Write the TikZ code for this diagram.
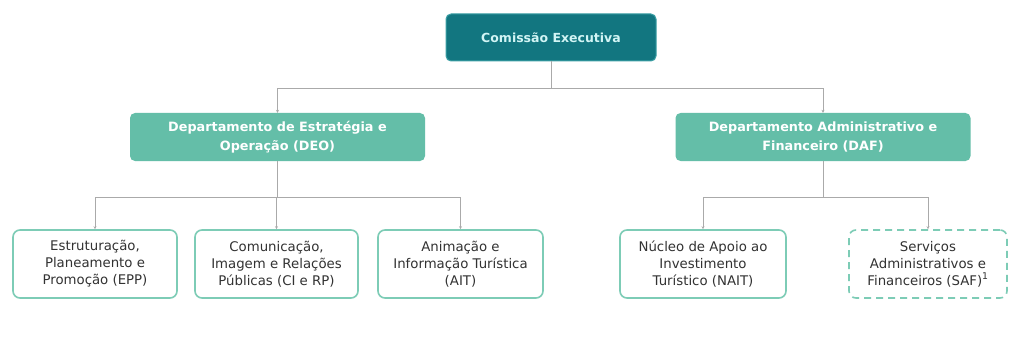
\documentclass[tikz,border=0pt]{standalone}
\usepackage{fontspec}
\setmainfont{DejaVu Sans}
\usetikzlibrary{arrows.meta}
\definecolor{exec}{RGB}{18,118,128}
\definecolor{execborder}{RGB}{60,160,165}
\definecolor{exectext}{RGB}{210,245,245}
\definecolor{dept}{RGB}{100,190,168}
\definecolor{unitborder}{RGB}{125,204,182}
\definecolor{conn}{RGB}{170,170,170}
\definecolor{txt}{RGB}{50,50,50}
\tikzset{
  execbox/.style={draw=execborder, line width=1pt, fill=exec, rounded corners=5pt, minimum width=210pt, minimum height=47pt, text=exectext, font=\fontsize{12.5}{15}\selectfont\bfseries, align=center, inner sep=0pt},
  deptbox/.style={fill=dept, rounded corners=5pt, minimum width=295pt, minimum height=48pt, text=white, font=\fontsize{12.8}{19}\selectfont\bfseries, align=center, inner sep=0pt},
  unitbox/.style={draw=unitborder, line width=1.6pt, rounded corners=7pt, minimum height=68pt, text=txt, font=\fontsize{13.3}{17}\selectfont, align=center, inner sep=0pt},
  dashbox/.style={unitbox, dashed, dash pattern=on 7pt off 5pt},
  conn/.style={draw=conn, line width=0.8pt},
  tip/.style={conn, -{Stealth[length=3pt,width=3pt]}}
}
\begin{document}
\begin{tikzpicture}[x=1pt,y=1pt]
\useasboundingbox[fill=white] (0,0) rectangle (1009,338);
\node[execbox] (ce) at (551,300.5) {Comissão Executiva};
\node[deptbox] (deo) at (277.5,201) {Departamento de Estratégia e\\Operação (DEO)};
\node[deptbox] (daf) at (823,201) {Departamento Administrativo e\\Financeiro (DAF)};
\node[unitbox, minimum width=164pt] (epp) at (95,74) {Estruturação,\\Planeamento e\\Promoção (EPP)};
\node[unitbox, minimum width=163pt] (ci) at (276.5,74) {Comunicação,\\Imagem e Relações\\Públicas (CI e RP)};
\node[unitbox, minimum width=165pt] (ait) at (460.5,74) {Animação e\\Informação Turística\\(AIT)};
\node[unitbox, minimum width=166pt] (nait) at (703,74) {Núcleo de Apoio ao\\Investimento\\Turístico (NAIT)};
\node[dashbox, minimum width=158pt] (saf) at (928,74) {Serviços\\Administrativos e\\Financeiros (SAF)\textsuperscript{1}};
\coordinate (b1) at (551,250);
\coordinate (b2) at (277.5,141);
\coordinate (b3) at (823,141);
\draw[conn] (ce.south) -- (b1);
\draw[tip] (b1) -| (deo.north);
\draw[tip] (b1) -| (daf.north);
\draw[conn] (deo.south) -- (b2);
\draw[tip] (b2) -| (epp.north);
\draw[tip] (b2) -| (ci.north);
\draw[tip] (b2) -| (ait.north);
\draw[conn] (daf.south) -- (b3);
\draw[tip] (b3) -| (nait.north);
\draw[tip] (b3) -| (saf.north);
\end{tikzpicture}
\end{document}
